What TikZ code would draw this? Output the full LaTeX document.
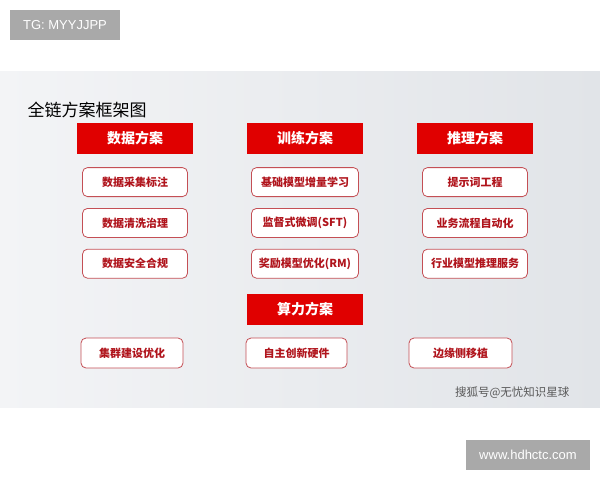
\documentclass[tikz,border=0pt]{standalone}
\usepackage{fontspec}
\newfontfamily\cjk{Noto Sans CJK SC}
\setsansfont{Liberation Sans}
\usetikzlibrary{positioning}
\definecolor{headred}{HTML}{E00000}
\definecolor{itemred}{HTML}{B0141C}
\definecolor{tagfill}{HTML}{A9A9A9}
\definecolor{bgleft}{HTML}{F3F4F6}
\definecolor{bgright}{HTML}{E1E4E8}
\tikzset{
  head/.style={fill=headred,text=white,inner sep=0pt,minimum width=116pt,minimum height=31pt,
    font=\cjk\bfseries\fontsize{14}{14}\selectfont},
  item/.style={draw=itemred!75,line width=.8pt,rounded corners=5pt,fill=white,text=itemred,
    inner sep=0pt,minimum width=105pt,minimum height=29pt,font=\cjk\bfseries\fontsize{11}{11}\selectfont},
  tag/.style={fill=tagfill,text=white,inner sep=0pt,minimum height=30pt,font=\sffamily\fontsize{13}{13}\selectfont}
}
\begin{document}
\begin{tikzpicture}[x=1pt,y=-1pt]
      \useasboundingbox (0,0) rectangle (600,480);
      \fill[white] (0,0) rectangle (600,480);
      \shade[left color=bgleft,right color=bgright] (0,71) rectangle (600,407);
      \node[tag,minimum width=110pt] (tg) at (65,25) {TG: MYYJJPP};
      \node[anchor=west,font=\cjk\fontsize{17}{17}\selectfont] (title) at (24,110) {全链方案框架图};
      % headers
      \node[head] (data) at (135,138.5) {数据方案};
      \node[head] (train) at (305,138.5) {训练方案};
      \node[head] (infer) at (475,138.5) {推理方案};
      \node[head] (power) at (305,309.5) {算力方案};
      % items
      \node[item,below=13pt of data] (d1) {数据采集标注};
      \node[item,below=11pt of d1] (d2) {数据清洗治理};
      \node[item,below=11pt of d2] (d3) {数据安全合规};
      \node[item,minimum width=107pt,below=13pt of train] (t1) {基础模型增量学习};
      \node[item,minimum width=107pt,below=11pt of t1] (t2) {监督式微调(SFT)};
      \node[item,minimum width=107pt,below=11pt of t2] (t3) {奖励模型优化(RM)};
      \node[item,below=13pt of infer] (i1) {提示词工程};
      \node[item,below=11pt of i1] (i2) {业务流程自动化};
      \node[item,below=11pt of i2] (i3) {行业模型推理服务};
      \node[item,minimum width=102pt,minimum height=30pt] (p1) at (132,353) {集群建设优化};
      \node[item,minimum width=101pt,minimum height=30pt] (p2) at (296.5,353) {自主创新硬件};
      \node[item,minimum width=103pt,minimum height=30pt] (p3) at (460.5,353) {边缘侧移植};
      \node[anchor=east,text=black!65,font=\cjk\fontsize{11.5}{11.5}\selectfont] (mark) at (573,393) {搜狐号@无忧知识星球};
      \node[tag,minimum width=124pt] (web) at (528,455) {www.hdhctc.com};
    \end{tikzpicture}
\end{document}
